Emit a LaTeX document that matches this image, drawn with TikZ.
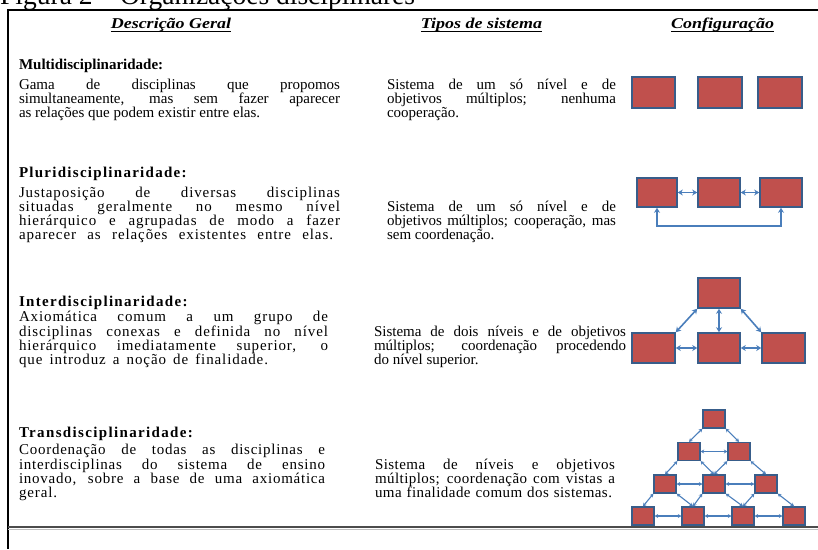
\documentclass[tikz,border=0pt]{standalone}
\usepackage{fontspec}
\setmainfont{Liberation Serif}
\usetikzlibrary{arrows.meta}
\definecolor{boxred}{HTML}{C0504D}
\definecolor{boxblue}{HTML}{385D8A}
\definecolor{arrblue}{HTML}{4A7EBB}
\newcommand\J[2]{\makebox[#1][s]{#2}}
\begin{document}
\begin{tikzpicture}[x=1pt,y=-1pt,
  txt/.style={anchor=base west, inner sep=0pt, outer sep=0pt, font=\fontsize{15}{17}\selectfont},
  ls/.style={font=\fontsize{15}{17}\selectfont\addfontfeatures{LetterSpace=#1}},
  ttl/.style={txt, font=\fontsize{15}{17}\selectfont\bfseries},
  tls/.style={font=\fontsize{15}{17}\selectfont\bfseries\addfontfeatures{LetterSpace=#1}},
  hdr/.style={anchor=base, inner sep=0pt, outer sep=0pt, font=\fontsize{15}{17}\selectfont\bfseries\itshape},
  uline/.style={line width=1.2pt},
  cbox/.style={draw=boxblue, fill=boxred, line width=1.6pt, inner sep=0pt},
  big/.style={cbox, minimum width=43pt, minimum height=30pt},
  small/.style={cbox, line width=1.3pt, minimum width=22pt, minimum height=18pt},
  link/.style={draw=arrblue, line width=1.6pt, {Stealth[length=5pt,width=6pt]}-{Stealth[length=5pt,width=6pt]}},
  slink/.style={draw=arrblue, line width=1.1pt, {Stealth[length=3.5pt,width=4pt]}-{Stealth[length=3.5pt,width=4pt]}},
  frame/.style={line width=2.5pt}
]
\useasboundingbox (0,0) rectangle (818,549);
\clip (0,0) rectangle (818,549);

% title (cut off at the top)
\node[anchor=base west, inner sep=0pt, font=\fontsize{27.5}{30}\selectfont] (title) at (0,4) {Figura 2 – Organizações disciplinares};

% frame
\coordinate (ftl) at (7,10);
\coordinate (ftr) at (818,10);
\coordinate (fbl) at (8,549);
\coordinate (fl) at (8,10);
\draw[frame] (ftl) -- (ftr);
\draw[frame] (fl) -- (fbl);
\coordinate (bl) at (8,527);
\coordinate (br) at (818,527);
\draw[line width=2.2pt, black!70] (bl) -- (br);
\draw[line width=1pt, black!25] ([yshift=-2.2pt]bl) -- ([yshift=-2.2pt]br);

% headers
\node[hdr] (h1) at (171,28) {\scalebox{1.2}[1]{Descrição Geral}};
\node[hdr] (h2) at (481.5,28) {\scalebox{1.2}[1]{Tipos de sistema}};
\node[hdr] (h3) at (722.5,28) {\scalebox{1.2}[1]{Configuração}};
\draw[uline] ([yshift=-3.5pt]h1.base west) -- ([yshift=-3.5pt]h1.base east);
\draw[uline] ([yshift=-3.5pt]h2.base west) -- ([yshift=-3.5pt]h2.base east);
\draw[uline] ([yshift=-3.5pt]h3.base west) -- ([yshift=-3.5pt]h3.base east);

% row 1
\node[ttl] (t1) at (19,69) {Multidisciplinaridade:};
\node[txt] (a11) at (19,89) {\J{321pt}{Gama de disciplinas que propomos}};
\node[txt] (a12) at (19,103.5) {\J{321pt}{simultaneamente, mas sem fazer aparecer}};
\node[txt] (a13) at (19,117.5) {as relações que podem existir entre elas.};
\node[txt] (b11) at (387,89) {\J{229pt}{Sistema de um só nível e de}};
\node[txt] (b12) at (387,103.5) {\J{229pt}{objetivos múltiplos; nenhuma}};
\node[txt] (b13) at (387,117.5) {cooperação.};

% row 2
\node[txt, tls=8.5] (t2) at (19,177) {Pluridisciplinaridade:};
\node[txt, ls=6] (a21) at (19,197) {\J{321pt}{Justaposição de diversas disciplinas}};
\node[txt, ls=6] (a22) at (19,211.5) {\J{321pt}{situadas geralmente no mesmo nível}};
\node[txt, ls=6] (a23) at (19,225.5) {\J{321pt}{hierárquico e agrupadas de modo a fazer}};
\node[txt, ls=6] (a24) at (19,239.5) {\J{314pt}{aparecer as relações existentes entre elas.}};
\node[txt] (b21) at (387,211.5) {\J{229pt}{Sistema de um só nível e de}};
\node[txt] (b22) at (387,225.5) {\J{229pt}{objetivos múltiplos; cooperação, mas}};
\node[txt] (b23) at (387,239.5) {sem coordenação.};

% row 3
\node[txt, tls=8.8] (t3) at (19,306) {Interdisciplinaridade:};
\node[txt, ls=6] (a31) at (19,321.5) {\J{309pt}{Axiomática comum a um grupo de}};
\node[txt, ls=6] (a32) at (19,336) {\J{309pt}{disciplinas conexas e definida no nível}};
\node[txt, ls=6] (a33) at (19,350) {\J{309pt}{hierárquico imediatamente superior, o}};
\node[txt, ls=6] (a34) at (19,364) {\J{249pt}{que introduz a noção de finalidade.}};
\node[txt] (b31) at (374,336) {\J{252pt}{Sistema de dois níveis e de objetivos}};
\node[txt] (b32) at (374,350) {\J{252pt}{múltiplos; coordenação procedendo}};
\node[txt] (b33) at (374,364) {do nível superior.};

% row 4
\node[txt, tls=9] (t4) at (19,437) {Transdisciplinaridade:};
\node[txt, ls=5] (a41) at (19,454) {\J{306pt}{Coordenação de todas as disciplinas e}};
\node[txt, ls=5] (a42) at (19,469) {\J{306pt}{interdisciplinas do sistema de ensino}};
\node[txt, ls=5] (a43) at (19,483.5) {\J{306pt}{inovado, sobre a base de uma axiomática}};
\node[txt, ls=6] (a44) at (19,497.5) {geral.};
\node[txt, ls=3] (b41) at (375,469) {\J{240pt}{Sistema de níveis e objetivos}};
\node[txt, ls=3] (b42) at (375,483.5) {\J{240pt}{múltiplos; coordenação com vistas a}};
\node[txt, ls=3] (b43) at (375,497.5) {\J{237pt}{uma finalidade comum dos sistemas.}};

% configuration 1
\node[big, minimum height=31pt] (m1) at (653.5,92.5) {};
\node[big, minimum height=31pt, minimum width=44pt] (m2) at (720,92.5) {};
\node[big, minimum height=31pt, minimum width=44pt] (m3) at (780,92.5) {};

% configuration 2
\node[big, minimum width=40pt, minimum height=29pt] (p1) at (657,192.5) {};
\node[big, minimum width=42pt, minimum height=29pt] (p2) at (719,192.5) {};
\node[big, minimum width=42pt, minimum height=29pt] (p3) at (781,192.5) {};
\draw[link] (p1) -- (p2);
\draw[link] (p2) -- (p3);
\draw[link] (p1.south) -- ++(0,18) -| (p3.south);

% configuration 3
\node[big, minimum width=42pt] (i0) at (719,293) {};
\node[big] (i1) at (653.5,348) {};
\node[big, minimum width=42pt] (i2) at (719,348) {};
\node[big] (i3) at (783.5,348) {};
\draw[link] (i0.south west) -- (i1.north east);
\draw[link] (i0.south) -- (i2.north);
\draw[link] (i0.south east) -- (i3.north west);
\draw[link] (i1) -- (i2);
\draw[link] (i2) -- (i3);

% configuration 4
\node[small] (s0) at (714,419) {};
\node[small] (s21) at (689,451.5) {};
\node[small] (s22) at (739,451.5) {};
\node[small] (s31) at (665,484) {};
\node[small] (s32) at (714,484) {};
\node[small] (s33) at (766,484) {};
\node[small] (s41) at (643,516) {};
\node[small] (s42) at (693,516) {};
\node[small] (s43) at (743,516) {};
\node[small] (s44) at (794,516) {};
\draw[slink] (s0.south west) -- (s21.north);
\draw[slink] (s0.south east) -- (s22.north);
\draw[slink] (s21) -- (s22);
\draw[slink] (s21.south west) -- (s31.north);
\draw[slink] (s21.south east) -- (s32.north);
\draw[slink] (s22.south west) -- (s32.north);
\draw[slink] (s22.south east) -- (s33.north);
\draw[slink] (s31) -- (s32);
\draw[slink] (s32) -- (s33);
\draw[slink] (s31.south west) -- (s41.north);
\draw[slink] (s31.south east) -- (s42.north);
\draw[slink] (s32.south west) -- (s42.north);
\draw[slink] (s32.south east) -- (s43.north);
\draw[slink] (s33.south west) -- (s43.north);
\draw[slink] (s33.south east) -- (s44.north);
\draw[slink] (s41) -- (s42);
\draw[slink] (s42) -- (s43);
\draw[slink] (s43) -- (s44);
\end{tikzpicture}
\end{document}
